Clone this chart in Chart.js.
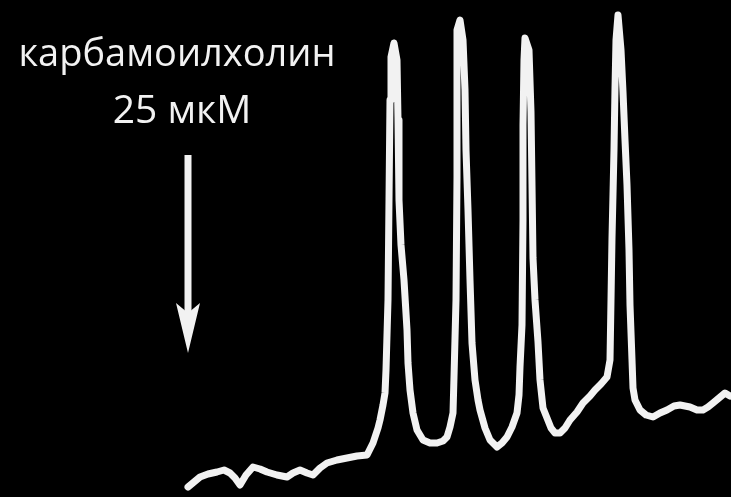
<!DOCTYPE html>
<html>
<head>
<meta charset="utf-8">
<script src="https://cdn.jsdelivr.net/npm/chart.js@4"></script>
<style>
    body { margin: 0; background: #000; }
    #quadro { width: 731px; height: 497px; }
</style>
</head>
<body>
<div id="quadro"><canvas id="grafico_registro" width="731" height="497"></canvas></div>
<script>
// registro: tempo (u.a.) e sinal (u.a.), lido ponto a ponto
var tempo = [188, 194, 200, 208, 217, 224, 230, 235, 240, 246, 253, 260, 267, 277, 287, 293, 300, 307, 313, 320,
    327, 337, 347, 357, 367, 373, 378, 380, 383, 385, 386, 388, 389, 390, 391, 394, 397, 398, 399, 401,
    404, 407, 408, 410, 413, 417, 423, 430, 437, 443, 447, 450, 453, 454, 456, 457, 457, 457, 460, 463,
    465, 466, 468, 470, 472, 475, 478, 480, 485, 490, 497, 502, 507, 512, 517, 519, 520, 522, 523, 523,
    524, 525, 529, 531, 533, 535, 538, 540, 543, 547, 551, 555, 560, 565, 570, 577, 583, 590, 595, 601,
    607, 610, 611, 612, 614, 615, 616, 618, 621, 623, 625, 627, 629, 630, 632, 633, 635, 640, 646, 653,
    660, 667, 674, 680, 690, 697, 703, 708, 713, 719, 725, 730];
var sinal = [10, 15, 20, 23, 25, 27, 24, 19, 12, 22, 30, 28, 25, 22, 20, 24, 27, 24, 22, 29,
    34, 37, 39, 41, 42, 54, 69, 77, 92, 104, 127, 197, 297, 397, 440, 454, 437, 377, 297, 252,
    217, 167, 134, 107, 84, 67, 57, 54, 54, 56, 60, 70, 84, 120, 197, 320, 397, 467, 477, 457,
    407, 347, 287, 217, 154, 117, 97, 87, 69, 57, 50, 54, 60, 70, 84, 102, 130, 172, 277, 372,
    437, 459, 447, 385, 239, 197, 155, 117, 89, 79, 69, 64, 64, 69, 77, 85, 94, 101, 107, 113,
    120, 137, 197, 259, 347, 409, 457, 482, 447, 405, 357, 312, 247, 192, 137, 109, 97, 87, 82, 80,
    84, 87, 91, 92, 90, 87, 87, 90, 94, 99, 104, 101];

// momento da adicao do agonista e texto da anotacao
var momentoAdicao = 188;
var setaSinal = [342, 144];
var rotulo = ['карбамоилхолин', '25 мкМ'];

const anotacao = {
    id: 'anotacao',
    afterDraw(chart) {
        const ctx = chart.ctx;
        const x = chart.scales.x.getPixelForValue(momentoAdicao);
        const y1 = chart.scales.y.getPixelForValue(setaSinal[0]);
        const y2 = chart.scales.y.getPixelForValue(setaSinal[1]);
        ctx.save();
        ctx.fillStyle = '#f2f2f2';
        ctx.strokeStyle = '#f2f2f2';

        // haste
        ctx.lineWidth = 7;
        ctx.beginPath();
        ctx.moveTo(x, y1);
        ctx.lineTo(x, y2 - 40);
        ctx.stroke();

        // ponta
        ctx.beginPath();
        ctx.moveTo(x, y2);
        ctx.lineTo(x - 12, y2 - 50);
        ctx.lineTo(x, y2 - 40);
        ctx.lineTo(x + 12, y2 - 50);
        ctx.closePath();
        ctx.fill();

        ctx.font = '38px "Open Sans"';
        ctx.textAlign = 'center';
        ctx.textBaseline = 'alphabetic';
        ctx.fillText(rotulo[0], 177, 66);
        ctx.font = '39px "Open Sans"';
        ctx.fillText(rotulo[1], 182, 123);
        ctx.restore();
    }
};

const grafico = document.getElementById('grafico_registro').getContext('2d');
var pontos = [];
for (var i = 0; i < tempo.length; i++) {
    pontos.push({x: tempo[i], y: sinal[i]});
}

new Chart(grafico, {
    type: 'line',
    data: {
        datasets: [{
            data: pontos,
            borderColor: '#f2f2f2',
            borderWidth: 7,
            borderJoinStyle: 'round',
            borderCapStyle: 'round',
            pointRadius: 0,
            tension: 0,
            fill: false
        }]
    },
    options: {
        responsive: false,
        maintainAspectRatio: false,
        animation: false,
        layout: { padding: 0 },
        plugins: {
            legend: { display: false },
            tooltip: { enabled: false }
        },
        scales: {
            x: { type: 'linear', min: 0, max: 731, display: false },
            y: { type: 'linear', min: 0, max: 497, display: false }
        }
    },
    plugins: [anotacao]
});
</script>
</body>
</html>
